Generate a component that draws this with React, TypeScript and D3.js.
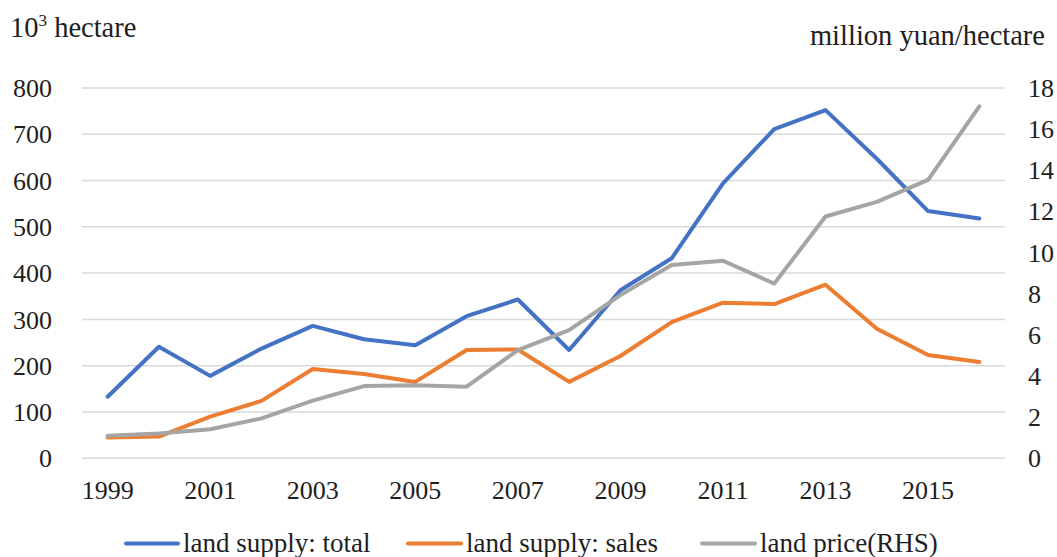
import React from "react";
import * as d3 from "d3";

const years = [1999, 2000, 2001, 2002, 2003, 2004, 2005, 2006, 2007, 2008, 2009, 2010, 2011, 2012, 2013, 2014, 2015, 2016];
const supplyTotal = [133, 241, 178, 237, 286, 257, 244, 307, 343, 234, 363, 432, 594, 711, 752, 647, 534, 518];
const supplySales = [45, 47, 90, 124, 193, 182, 165, 234, 235, 165, 221, 294, 336, 333, 375, 280, 223, 208];
const landPrice = [1.1, 1.21, 1.41, 1.94, 2.8, 3.51, 3.55, 3.48, 5.26, 6.23, 7.93, 9.39, 9.6, 8.49, 11.75, 12.46, 13.53, 17.1];
const leftTicks = [0, 100, 200, 300, 400, 500, 600, 700, 800];
const rightTicks = [0, 2, 4, 6, 8, 10, 12, 14, 16, 18];
const xTickYears = [1999, 2001, 2003, 2005, 2007, 2009, 2011, 2013, 2015];
const seriesNames = ["land supply: total", "land supply: sales", "land price(RHS)"];

const W = 1057;
const H = 557;
const FONT = "'Liberation Serif', 'Times New Roman', serif";
const TEXT = "#1e1e1e";
const COLORS = ["#4472C4", "#ED7D31", "#A5A5A5"];

export default function App() {
  const x = d3.scaleBand<number>().domain(years).range([82, 1005]);
  const cx = (yr: number) => (x(yr) as number) + x.bandwidth() / 2;
  const yL = d3.scaleLinear().domain([0, 800]).range([458.3, 87.9]);
  const yR = d3.scaleLinear().domain([0, 18]).range([458.3, 87.9]);

  const lineL = d3
    .line<number>()
    .x((_, i) => cx(years[i]))
    .y((d) => yL(d));
  const lineR = d3
    .line<number>()
    .x((_, i) => cx(years[i]))
    .y((d) => yR(d));

  const paths = [lineL(supplyTotal), lineL(supplySales), lineR(landPrice)];

  const legend = [
    { x1: 126, x2: 178, tx: 183 },
    { x1: 408, x2: 461, tx: 466 },
    { x1: 702, x2: 755, tx: 760 },
  ];

  return (
    <svg
      width={W}
      height={H}
      style={{ position: "absolute", left: 0, top: 0, background: "#fff" }}
      fontFamily={FONT}
    >
      {leftTicks.map((t) => (
        <line key={"g" + t} x1={82} x2={1005} y1={yL(t)} y2={yL(t)} stroke="#d9d9d9" strokeWidth={1.5} />
      ))}
      {leftTicks.map((t) => (
        <text key={"l" + t} x={52} y={yL(t)} dy="0.35em" textAnchor="end" fontSize={26} fill={TEXT}>
          {t}
        </text>
      ))}
      {rightTicks.map((t) => (
        <text key={"r" + t} x={1028} y={yR(t)} dy="0.35em" textAnchor="start" fontSize={26} fill={TEXT}>
          {t}
        </text>
      ))}
      {xTickYears.map((yr) => (
        <text key={"x" + yr} x={cx(yr)} y={499} textAnchor="middle" fontSize={26} fill={TEXT}>
          {yr}
        </text>
      ))}
      <text x={10} y={37} fontSize={28.5} fill={TEXT}>
        10
        <tspan fontSize={17} dy={-11}>3</tspan>
        <tspan dy={11}> hectare</tspan>
      </text>
      <text x={1045} y={45} textAnchor="end" fontSize={28.5} fill={TEXT}>
        million yuan/hectare
      </text>
      {paths.map((p, i) => (
        <path
          key={"p" + i}
          d={p || ""}
          fill="none"
          stroke={COLORS[i]}
          strokeWidth={4}
          strokeLinejoin="round"
          strokeLinecap="round"
        />
      ))}
      {legend.map((l, i) => (
        <g key={"lg" + i}>
          <line x1={l.x1} x2={l.x2} y1={543.5} y2={543.5} stroke={COLORS[i]} strokeWidth={4} strokeLinecap="round" />
          <text x={l.tx} y={552} fontSize={27} fill={TEXT}>
            {seriesNames[i]}
          </text>
        </g>
      ))}
    </svg>
  );
}
